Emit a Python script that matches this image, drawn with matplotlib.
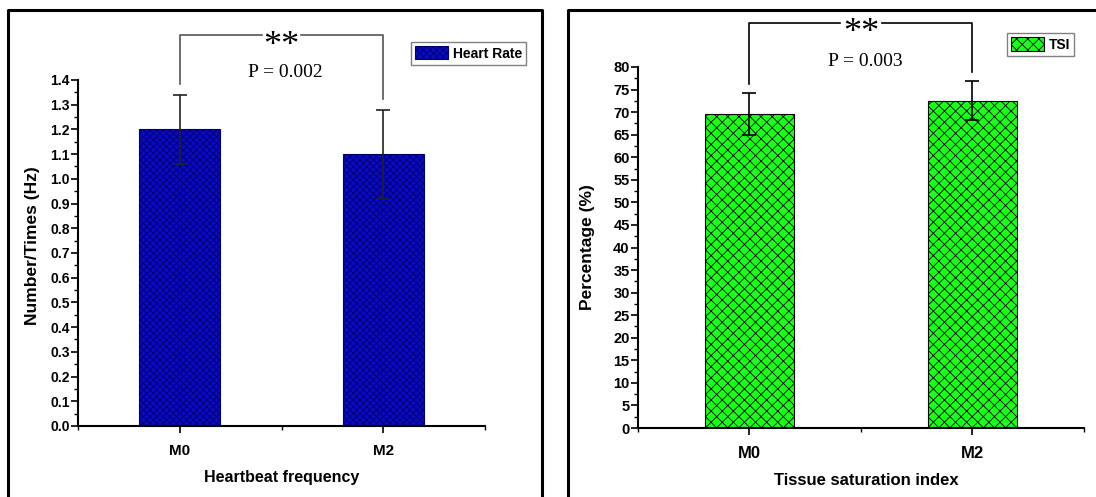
import matplotlib
matplotlib.use('Agg')
import matplotlib.pyplot as plt
from matplotlib.lines import Line2D

# data
groups = ['M0', 'M2']
heart_rate = [1.20, 1.10]
heart_rate_err = [0.14, 0.18]
tsi = [69.6, 72.5]
tsi_err = [4.6, 4.3]
hr_p_text = 'P = 0.002'
tsi_p_text = 'P = 0.003'

plt.rcParams['font.family'] = ['Liberation Sans', 'DejaVu Sans']
plt.rcParams['font.weight'] = 'bold'
plt.rcParams['hatch.linewidth'] = 0.6


# Function to draw one bar panel with error bars, bracket and p-value
def draw_panel(ax, values, errs, face, hatch_col, hatch, label, ymax, ystep,
               xlabel, ylabel, p_text, bracket_top, p_y, leg_gap, line_col,
               err_col, tick_size, xtick_size, xlabel_size, ylabel_size,
               legend_anchor):
    x = list(range(len(groups)))
    ax.bar(x, values, width=0.4, color=face, edgecolor=hatch_col, hatch=hatch,
           linewidth=0.8, label=label, zorder=2)
    ax.errorbar(x, values, yerr=errs, fmt='none', ecolor=err_col,
                elinewidth=1.2, capsize=5, capthick=1.2, zorder=3)

    ax.set_xlim(-0.5, 1.5)
    ax.set_ylim(0, ymax)
    ax.set_xticks(x)
    ax.set_xticklabels(groups, fontsize=xtick_size, fontweight='bold')
    ax.set_xticks([-0.5, 0.5, 1.5], minor=True)
    yt = [i * ystep for i in range(int(round(ymax / ystep)) + 1)]
    ax.set_yticks(yt)
    ax.set_yticks([v + ystep / 2 for v in yt[:-1]], minor=True)
    if ystep < 1:
        ax.set_yticklabels(['%.1f' % v for v in yt])
    else:
        ax.set_yticklabels(['%d' % v for v in yt])
    for t in ax.get_yticklabels():
        t.set_fontsize(tick_size)
        t.set_fontweight('bold')

    for s in ['top', 'right']:
        ax.spines[s].set_visible(False)
    for s in ['left', 'bottom']:
        ax.spines[s].set_linewidth(1.5)
    ax.tick_params(axis='both', which='major', direction='out', length=5, width=1.2)
    ax.tick_params(axis='both', which='minor', direction='out', length=3, width=1.0)
    ax.tick_params(axis='y', which='major', pad=1)
    ax.tick_params(axis='x', which='major', pad=8)

    ax.set_xlabel(xlabel, fontsize=xlabel_size, fontweight='bold')
    ax.set_ylabel(ylabel, fontsize=ylabel_size, fontweight='bold')

    # significance bracket
    left_bottom = values[0] + errs[0] + leg_gap
    right_bottom = values[1] + errs[1] + leg_gap
    mid = (x[0] + x[1]) / 2
    gap = 0.095
    kw = dict(color=line_col, lw=1.2, clip_on=False, zorder=4)
    ax.plot([x[0], x[0], mid - gap], [left_bottom, bracket_top, bracket_top], **kw)
    ax.plot([mid + gap, x[1], x[1]], [bracket_top, bracket_top, right_bottom], **kw)
    ax.annotate('**', (mid, bracket_top), xytext=(0, -8), textcoords='offset points',
                ha='center', va='center', fontsize=26, fontweight='normal',
                family='Liberation Serif', annotation_clip=False)
    ax.text(mid + 0.02, p_y, p_text, ha='center', va='center', fontsize=14,
            fontweight='normal', family='Liberation Serif', clip_on=False)

    leg = ax.legend(loc='upper right', bbox_to_anchor=legend_anchor,
                    bbox_transform=ax.figure.transFigure, borderaxespad=0,
                    fancybox=False, edgecolor='#808080', framealpha=1,
                    prop={'weight': 'bold', 'size': 10}, handlelength=2.4,
                    handleheight=1.1, borderpad=0.3, handletextpad=0.3)
    leg.get_frame().set_linewidth(1.0)


def main():
    fig = plt.figure(figsize=(10.96, 4.97), dpi=100)

    ax1 = fig.add_axes([0.0712, 0.1429, 0.3713, 0.6962])
    draw_panel(ax1, heart_rate, heart_rate_err, '#0a0ac0', '#000070', 'xxxxx',
               'Heart Rate', 1.4, 0.1, 'Heartbeat frequency', 'Number/Times (Hz)',
               hr_p_text, 1.58, 1.43, 0.045, '#555555', '#222222',
               10, 11, 11.5, 12.5, (0.480, 0.9155))
    ax1.xaxis.set_label_coords(0.5, -0.127)
    ax1.yaxis.set_label_coords(-0.093, 0.52)

    ax2 = fig.add_axes([0.5821, 0.1388, 0.4069, 0.7264])
    draw_panel(ax2, tsi, tsi_err, '#18ff18', 'black', 'xxx',
               'TSI', 80, 5, 'Tissue saturation index', 'Percentage (%)',
               tsi_p_text, 89.8, 81.2, 2.0, 'black', 'black',
               10.5, 12, 12, 12.5, (0.980, 0.9336))
    ax2.xaxis.set_label_coords(0.511, -0.125)
    ax2.yaxis.set_label_coords(-0.096, 0.50)

    # black frames around the two panels
    fr = dict(color='black', lw=2.2, transform=fig.transFigure)
    fig.add_artist(Line2D([0.0073, 0.0073, 0.4945, 0.4945], [-0.05, 0.980, 0.980, -0.05], **fr))
    fig.add_artist(Line2D([0.518, 0.518, 1.05], [-0.05, 0.980, 0.980], **fr))

    fig.savefig('out.png', dpi=100)


if __name__ == "__main__":
    main()
